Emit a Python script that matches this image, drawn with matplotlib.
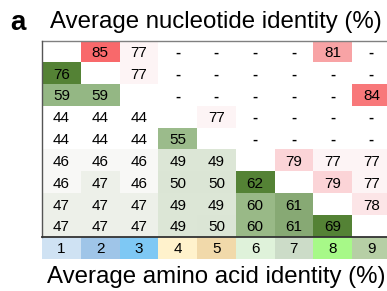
import numpy as np
import matplotlib.pyplot as plt
from matplotlib.colors import LinearSegmentedColormap, Normalize, to_rgb

plt.rcParams["font.family"] = ["Liberation Sans", "DejaVu Sans"]

strains = ["1", "2", "3", "4", "5", "6", "7", "8", "9"]

# upper triangle: nucleotide identity, lower triangle: amino acid identity
identity = [
    ["",   "85", "77", "-",  "-",  "-",  "-",  "81", "-"],
    ["76", "",   "77", "-",  "-",  "-",  "-",  "-",  "-"],
    ["59", "59", "",   "-",  "-",  "-",  "-",  "-",  "84"],
    ["44", "44", "44", "",   "77", "-",  "-",  "-",  "-"],
    ["44", "44", "44", "55", "",   "-",  "-",  "-",  "-"],
    ["46", "46", "46", "49", "49", "",   "79", "77", "77"],
    ["46", "47", "46", "50", "50", "62", "",   "79", "77"],
    ["47", "47", "47", "49", "49", "60", "61", "",   "78"],
    ["47", "47", "47", "49", "50", "60", "61", "69", ""],
]

group_colors = ["#cfe2f3", "#9fc5e8", "#7ec8f4", "#fff2cc", "#f1d9aa",
                "#dff2da", "#ccdcc8", "#a7f988", "#b6cfa5"]

aa_stops = [(44, "#ffffff"), (46, "#f9f9f7"), (47, "#eef1ea"), (49, "#dce6d6"),
            (50, "#dce6d6"), (55, "#9cbc8c"), (59, "#94b784"), (60, "#9bba89"),
            (61, "#8bac79"), (62, "#548235"), (76, "#548235")]
nt_stops = [(77, "#fdf4f5"), (78, "#fde6e8"), (79, "#fcd5d8"), (81, "#f9a4a6"),
            (84, "#f8797b"), (85, "#f8696b")]


def make_cmap(stops):
    lo, hi = stops[0][0], stops[-1][0]
    cmap = LinearSegmentedColormap.from_list(
        "", [((v - lo) / (hi - lo), c) for v, c in stops])
    return cmap, Normalize(lo, hi)


aa_cmap, aa_norm = make_cmap(aa_stops)
nt_cmap, nt_norm = make_cmap(nt_stops)

n = len(strains)
img = np.ones((n + 1, n, 3))
for i in range(n):
    for j in range(n):
        txt = identity[i][j]
        if txt.isdigit():
            v = int(txt)
            if j > i:
                img[i, j] = nt_cmap(nt_norm(v))[:3]
            else:
                img[i, j] = aa_cmap(aa_norm(v))[:3]
for j in range(n):
    img[n, j] = to_rgb(group_colors[j])

fig = plt.figure(figsize=(3.87, 2.91), dpi=100)
ax = fig.add_axes([42 / 387, 1 - 259 / 291, 348.75 / 387, 218.3 / 291])
ax.imshow(img, aspect="auto", extent=(0, n, n + 1, 0), interpolation="nearest")
ax.set_xlim(0, n)
ax.set_ylim(n + 1, 0)
ax.axis("off")

for i in range(n):
    for j in range(n):
        txt = identity[i][j]
        ax.text(j + 0.5, i + 0.55, txt, ha="center", va="center",
                fontsize=11, color="black",
                fontweight="bold" if txt == "-" else "normal")
for j in range(n):
    ax.text(j + 0.5, n + 0.55, strains[j], ha="center", va="center",
            fontsize=11, color="black")

ax.plot([0, n], [0, 0], color="#808080", lw=1, clip_on=False)
ax.plot([0, 0], [0, n], color="#555555", lw=1, clip_on=False)
ax.plot([0, n], [n, n], color="#333333", lw=1.3, clip_on=False)

ax.text(n / 2, -0.58, "Average nucleotide identity (%)", ha="center",
        va="baseline", fontsize=17.3)
ax.text(n / 2, n + 2.1, "Average amino acid identity (%)", ha="center",
        va="baseline", fontsize=17.3)
fig.text(10 / 387, 1 - 30.5 / 291, "a", fontsize=20, fontweight="bold",
         va="baseline", ha="left")

fig.savefig("out.png", dpi=100)
